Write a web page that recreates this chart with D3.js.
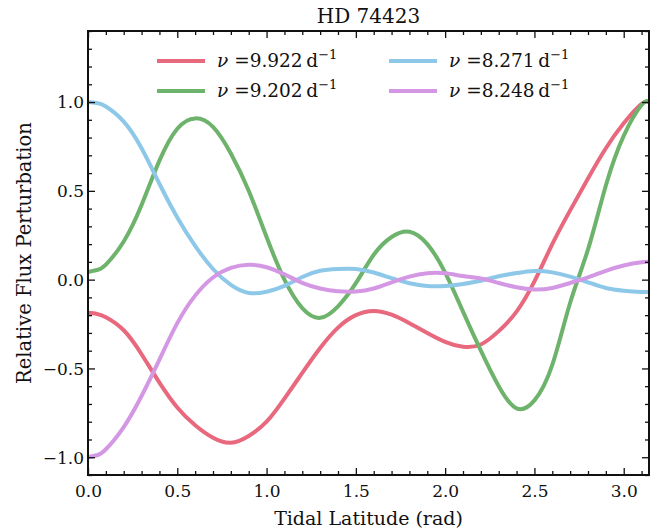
<!DOCTYPE html>
<html>
<head>
<meta charset="utf-8">
<script src="https://cdn.jsdelivr.net/npm/d3@7"></script>
<style>
  html, body { margin: 0; padding: 0; background: #fff; }
  svg { display: block; }
</style>
</head>
<body>
<svg id="chart" width="672" height="531"></svg>
<script>
// ---- data ----
const title = "HD 74423";
const xLabel = "Tidal Latitude (rad)";
const yLabel = "Relative Flux Perturbation";
const latitude = [0.0, 0.05, 0.1, 0.2, 0.3, 0.4, 0.5, 0.6, 0.7, 0.8, 0.9, 1.0, 1.1, 1.2, 1.3, 1.4, 1.5,
  1.6, 1.7, 1.8, 1.9, 2.0, 2.1, 2.2, 2.3, 2.4, 2.5, 2.6, 2.7, 2.8, 2.9, 3.0, 3.1, 3.1416];
const freqs = ["9.922", "9.202", "8.271", "8.248"];
const seriesColors = ["#e8687e", "#6db36b", "#8ec8e8", "#d497e4"];
const flux9922 = [-0.187, -0.193, -0.212, -0.285, -0.42, -0.58, -0.72, -0.82, -0.89, -0.918, -0.88, -0.80, -0.67,
  -0.525, -0.385, -0.27, -0.2, -0.176, -0.197, -0.245, -0.30, -0.35, -0.378,
  -0.365, -0.29, -0.18, -0.01, 0.20, 0.39, 0.57, 0.74, 0.88, 0.99, 1.0];
const flux9202 = [0.043, 0.054, 0.085, 0.215, 0.42, 0.67, 0.85, 0.908, 0.86, 0.71, 0.50, 0.24, 0.0,
  -0.16, -0.215, -0.15, -0.02, 0.14, 0.24, 0.27, 0.20, 0.04, -0.18,
  -0.40, -0.60, -0.725, -0.68, -0.48, -0.13, 0.17, 0.53, 0.81, 0.983, 1.0];
const flux8271 = [1.0, 0.994, 0.975, 0.89, 0.74, 0.54, 0.35, 0.19, 0.06, -0.03, -0.075, -0.068, -0.035,
  0.015, 0.05, 0.06, 0.06, 0.04, 0.008, -0.02, -0.036, -0.036, -0.024,
  -0.006, 0.019, 0.037, 0.049, 0.041, 0.017, -0.015, -0.047, -0.062, -0.069, -0.07];
const flux8248 = [-1.0, -0.989, -0.955, -0.83, -0.655, -0.45, -0.245, -0.09, 0.012, 0.066, 0.084, 0.07, 0.03,
  -0.018, -0.05, -0.066, -0.067, -0.05, -0.015, 0.017, 0.036, 0.036, 0.02,
  0.006, -0.019, -0.043, -0.056, -0.047, -0.019, 0.013, 0.05, 0.08, 0.098, 0.10];
const xMajorTicks = [0.0, 0.5, 1.0, 1.5, 2.0, 2.5, 3.0];
const yMajorTicks = [-1.0, -0.5, 0.0, 0.5, 1.0];

const allFlux = [flux9922, flux9202, flux8271, flux8248];

// ---- layout ----
const FONT = "DejaVu Serif";
const svg = d3.select("#chart");
const L = 88, R = 649, T = 31, B = 475;
const x = d3.scaleLinear().domain([0, Math.PI]).range([L, R]);
const y = d3.scaleLinear().domain([-1.1, 1.4]).range([B, T]);

const fmt = d3.format(".1f");
const minus = s => s.replace("-", "\u2212");

const line = d3.line()
  .x(d => x(d[0])).y(d => y(d[1]))
  .curve(d3.curveNatural);

svg.append("clipPath").attr("id", "clip")
  .append("rect").attr("x", L).attr("y", T).attr("width", R - L).attr("height", B - T);

const g = svg.append("g").attr("clip-path", "url(#clip)");
allFlux.forEach((vals, i) => {
  g.append("path")
    .datum(latitude.map((t, k) => [t, vals[k]]))
    .attr("fill", "none")
    .attr("stroke", seriesColors[i])
    .attr("stroke-width", 4)
    .attr("stroke-linejoin", "round")
    .attr("d", line);
});

const xMinor = d3.range(0, 32).map(k => k / 10).filter(v => !xMajorTicks.some(m => Math.abs(m - v) < 1e-9));
const yMinor = d3.range(-11, 15).map(k => k / 10).filter(v => !yMajorTicks.some(m => Math.abs(m - v) < 1e-9));

function axisPair(axisFn, scale, major, minor, tf, labels) {
  const gMaj = svg.append("g").attr("transform", tf)
    .call(axisFn(scale).tickValues(major).tickSizeInner(-7).tickSizeOuter(0)
      .tickFormat(labels ? d => minus(fmt(d)) : ""));
  const gMin = svg.append("g").attr("transform", tf)
    .call(axisFn(scale).tickValues(minor).tickSizeInner(-4).tickSizeOuter(0).tickFormat(""));
  [gMaj, gMin].forEach(a => {
    a.select(".domain").remove();
    a.selectAll("line").attr("stroke", "#111").attr("stroke-width", 1.3);
  });
  gMaj.attr("font-family", FONT).attr("font-size", 17);
  gMaj.selectAll("text").attr("fill", "#111");
  return gMaj;
}
const gx = axisPair(d3.axisBottom, x, xMajorTicks, xMinor, `translate(0,${B})`, true);
gx.selectAll("text").attr("dy", "1.0em").attr("y", 5);
axisPair(d3.axisTop, x, xMajorTicks, xMinor, `translate(0,${T})`, false);
const gy = axisPair(d3.axisLeft, y, yMajorTicks, yMinor, `translate(${L},0)`, true);
gy.selectAll("text").attr("x", -4).attr("dy", "0.34em");
axisPair(d3.axisRight, y, yMajorTicks, yMinor, `translate(${R},0)`, false);

svg.append("rect").attr("x", L).attr("y", T).attr("width", R - L).attr("height", B - T)
  .attr("fill", "none").attr("stroke", "#111").attr("stroke-width", 2);

svg.append("text").attr("x", (L + R) / 2).attr("y", 23).attr("text-anchor", "middle")
  .attr("font-family", FONT).attr("fill", "#111")
  .attr("font-size", 20).text(title);
svg.append("text").attr("x", (L + R) / 2).attr("y", 525).attr("text-anchor", "middle")
  .attr("font-family", FONT).attr("fill", "#111")
  .attr("font-size", 19).text(xLabel);
svg.append("text").attr("transform", `translate(31,${(T + B) / 2}) rotate(-90)`)
  .attr("font-family", FONT).attr("fill", "#111")
  .attr("text-anchor", "middle").attr("font-size", 19.5).text(yLabel);

const legPos = [[157, 61], [157, 91], [389, 61], [389, 91]];
freqs.forEach((f, i) => {
  const [lx, ly] = legPos[i];
  svg.append("line").attr("x1", lx).attr("x2", lx + 48).attr("y1", ly).attr("y2", ly)
    .attr("stroke", seriesColors[i]).attr("stroke-width", 4);
  const t = svg.append("text").attr("x", lx + 60).attr("y", ly + 6).attr("font-size", 18.5)
    .attr("font-family", FONT).attr("fill", "#111");
  t.append("tspan").attr("font-style", "italic").text("\u03bd");
  t.append("tspan").text(" =" + f + "\u2009d");
  t.append("tspan").attr("dy", -8).attr("font-size", 13).text("\u22121");
});
</script>
</body>
</html>
